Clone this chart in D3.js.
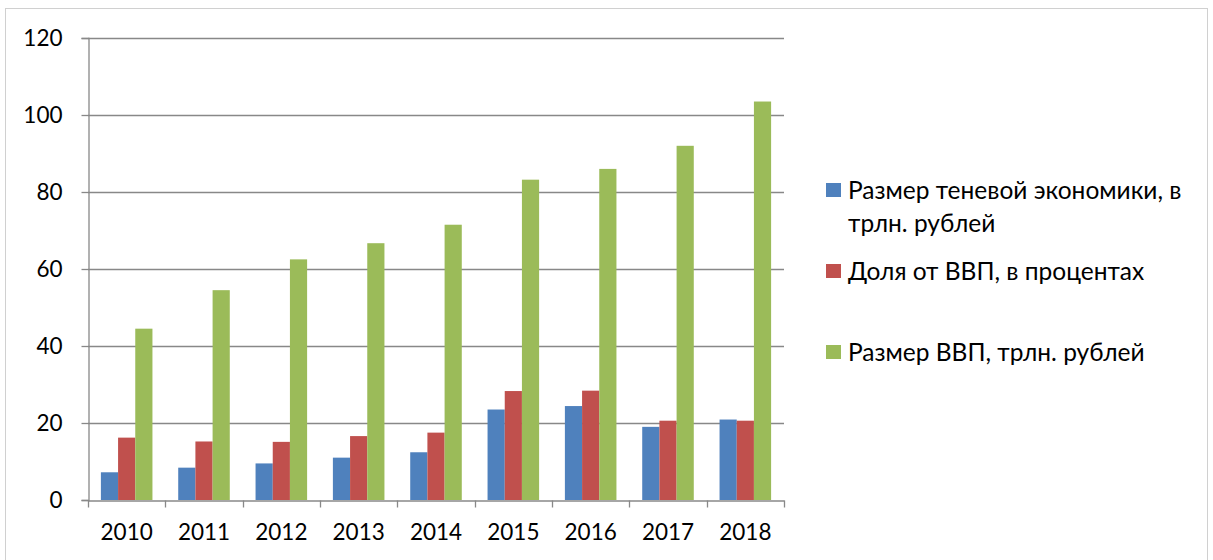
<!DOCTYPE html>
<html>
<head>
<meta charset="utf-8">
<script src="https://cdn.jsdelivr.net/npm/d3@7.9.0/dist/d3.min.js"></script>
<style>
  body { margin: 0; background: #fff; }
  svg text { font-family: Lato, "Open Sans", sans-serif; fill: #000; }
</style>
</head>
<body>
<div id="chart"></div>
<script>
const years = ['2010', '2011', '2012', '2013', '2014', '2015', '2016', '2017', '2018'];
const seriesNames = [
  'Размер теневой экономики, в трлн. рублей',
  'Доля от ВВП, в процентах',
  'Размер ВВП, трлн. рублей'
];
const shadowSize = [7.2, 8.4, 9.5, 11.0, 12.4, 23.5, 24.4, 19.0, 20.9];
const shareOfGdp = [16.2, 15.2, 15.1, 16.6, 17.5, 28.3, 28.4, 20.6, 20.6];
const gdpSize = [44.5, 54.5, 62.5, 66.7, 71.5, 83.2, 86.0, 92.0, 103.5];
const yTickValues = [0, 20, 40, 60, 80, 100, 120];
const colors = ['#4F81BD', '#C0504D', '#9BBB59'];

const width = 1213;
const height = 560;
const plot = { left: 88, right: 784, top: 38, bottom: 500 };

const allSeries = [shadowSize, shareOfGdp, gdpSize];
const rows = years.map((y, i) => ({ year: y, values: allSeries.map(s => s[i]) }));

const svg = d3.select('#chart')
  .append('svg')
  .attr('width', width)
  .attr('height', height);

// chart frame
svg.append('rect')
  .attr('x', 5.5).attr('y', 8.5)
  .attr('width', 1202).attr('height', 560)
  .attr('fill', 'none')
  .attr('stroke', '#d0d0d0')
  .attr('stroke-width', 1);

const xScale = d3.scaleBand()
  .domain(years)
  .range([plot.left, plot.right])
  .paddingInner(0)
  .paddingOuter(0);

const xInner = d3.scaleBand()
  .domain(d3.range(seriesNames.length))
  .range([0, xScale.bandwidth()])
  .paddingInner(0)
  .paddingOuter(0.75);

const yScale = d3.scaleLinear()
  .domain([0, 120])
  .range([plot.bottom, plot.top]);

// gridlines
svg.append('g')
  .attr('class', 'gridlines')
  .selectAll('line')
  .data(yTickValues.filter(d => d > 0))
  .join('line')
  .attr('x1', plot.left)
  .attr('x2', plot.right)
  .attr('y1', d => Math.round(yScale(d)) + 0.5)
  .attr('y2', d => Math.round(yScale(d)) + 0.5)
  .attr('stroke', '#888')
  .attr('stroke-width', 1.3);

// bars
const groups = svg.append('g')
  .selectAll('g')
  .data(rows)
  .join('g')
  .attr('transform', d => `translate(${xScale(d.year)},0)`);

groups.selectAll('rect')
  .data(d => d.values.map((v, i) => ({ v, i })))
  .join('rect')
  .attr('x', d => xInner(d.i))
  .attr('width', xInner.bandwidth())
  .attr('y', d => yScale(d.v))
  .attr('height', d => yScale(0) - yScale(d.v))
  .attr('fill', d => colors[d.i]);

// y axis
const yAxis = d3.axisLeft(yScale)
  .tickValues(yTickValues)
  .tickSize(7)
  .tickPadding(19);

const gy = svg.append('g')
  .attr('transform', `translate(${plot.left + 0.5},0)`)
  .call(yAxis);
gy.select('.domain').attr('stroke', '#888').attr('stroke-width', 1.3);
gy.selectAll('.tick line').attr('stroke', '#888').attr('stroke-width', 1.3);
gy.selectAll('.tick text').style('font-size', '22.5px');

// x axis
const xAxis = d3.axisBottom(xScale)
  .tickSize(0)
  .tickPadding(24);

const gx = svg.append('g')
  .attr('transform', `translate(0,${plot.bottom + 0.5})`)
  .call(xAxis);
gx.select('.domain').attr('stroke', '#888').attr('stroke-width', 1.3);
gx.selectAll('.tick text').style('font-size', '22.5px');

// category separators on x axis
gx.append('g')
  .selectAll('line')
  .data(years.map(y => xScale(y)).concat([plot.right]))
  .join('line')
  .attr('x1', d => Math.round(d) + 0.5)
  .attr('x2', d => Math.round(d) + 0.5)
  .attr('y1', 0)
  .attr('y2', 7)
  .attr('stroke', '#888')
  .attr('stroke-width', 1.3);

// legend
const legend = svg.append('g')
  .attr('transform', 'translate(826,190)');

const items = legend.selectAll('g')
  .data(seriesNames)
  .join('g')
  .attr('transform', (d, i) => `translate(0,${i * 81})`);

items.append('rect')
  .attr('x', 0)
  .attr('y', -7)
  .attr('width', 15)
  .attr('height', 14)
  .attr('fill', (d, i) => colors[i]);

items.append('text')
  .attr('x', 22)
  .attr('y', 0)
  .style('font-size', '24.5px')
  .each(function (d) {
    const text = d3.select(this);
    const words = d.split(' ');
    const maxWidth = 352;
    let line = [];
    let tspan = text.append('tspan').attr('x', 22).attr('dy', '0.35em');
    for (const w of words) {
      line.push(w);
      tspan.text(line.join(' '));
      if (tspan.node().getComputedTextLength() > maxWidth && line.length > 1) {
        line.pop();
        tspan.text(line.join(' '));
        line = [w];
        tspan = text.append('tspan').attr('x', 22).attr('dy', '33px').text(w);
      }
    }
  });
</script>
</body>
</html>
